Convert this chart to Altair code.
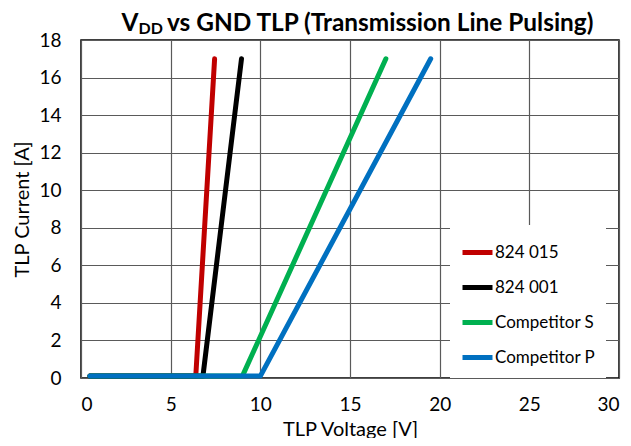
import altair as alt
import pandas as pd

series_names = ["824 015", "824 001", "Competitor S", "Competitor P"]
series_colors = ["#C00000", "#000000", "#00B050", "#0070C0"]

red_x = [0.5, 6.4, 7.45]
red_y = [0.1, 0.1, 17.0]
black_x = [0.5, 6.8, 8.95]
black_y = [0.1, 0.1, 17.0]
green_x = [0.5, 9.0, 17.0]
green_y = [0.1, 0.1, 17.0]
blue_x = [0.5, 10.0, 19.5]
blue_y = [0.1, 0.1, 17.0]

rows = []
for name, xs, ys in zip(series_names,
                        [red_x, black_x, green_x, blue_x],
                        [red_y, black_y, green_y, blue_y]):
    for i, (x, y) in enumerate(zip(xs, ys)):
        rows.append({"series": name, "v": x, "i": y, "k": i})
df = pd.DataFrame(rows)

FONT = "Lato"
W, H = 538, 338

lines = alt.Chart(df).mark_line(strokeWidth=5, strokeCap="round", strokeJoin="round").encode(
    x=alt.X("v:Q", scale=alt.Scale(domain=[0, 30], nice=False),
            axis=alt.Axis(title="TLP Voltage [V]", values=[0, 5, 10, 15, 20, 25, 30])),
    y=alt.Y("i:Q", scale=alt.Scale(domain=[0, 18], nice=False),
            axis=alt.Axis(title="TLP Current [A]", values=list(range(0, 19, 2)))),
    color=alt.Color("series:N", sort=series_names,
                    scale=alt.Scale(domain=series_names, range=series_colors),
                    legend=alt.Legend(title=None, orient="none", legendX=369, legendY=185,
                                      symbolType="stroke", symbolSize=900, symbolStrokeWidth=5,
                                      labelFontSize=17, labelFont=FONT, labelColor="#000",
                                      labelOffset=0, rowPadding=7, fillColor="white",
                                      padding=10, labelLimit=200)),
    order="k:Q",
    detail="series:N",
)

t_v = alt.Chart(pd.DataFrame({"t": ["V"]})).mark_text(
    font=FONT, fontSize=24.4, fontWeight="bold", align="left", baseline="alphabetic", color="#000"
).encode(text="t:N", x=alt.value(40.5), y=alt.value(-9.5))
t_dd = alt.Chart(pd.DataFrame({"t": ["DD"]})).mark_text(
    font=FONT, fontSize=16, fontWeight="bold", align="left", baseline="alphabetic", color="#000"
).encode(text="t:N", x=alt.value(57.5), y=alt.value(-6))
t_rest = alt.Chart(pd.DataFrame({"t": ["vs GND TLP (Transmission Line Pulsing)"]})).mark_text(
    font=FONT, fontSize=24.4, fontWeight="bold", align="left", baseline="alphabetic", color="#000"
).encode(text="t:N", x=alt.value(86), y=alt.value(-9.5))

chart = alt.layer(lines, t_v, t_dd, t_rest).properties(
    width=W, height=H,
    autosize=alt.AutoSizeParams(type="none"),
    padding={"left": 73, "top": 32, "right": 4, "bottom": 60},
).configure_view(
    stroke="#000", strokeWidth=1.5
).configure_axis(
    domain=False, ticks=False, grid=True, gridColor="#5a5a5a", gridWidth=1.2,
    labelFont=FONT, labelFontSize=19, labelColor="#000",
    titleFont=FONT, titleFontSize=20, titleFontWeight="normal", titleColor="#000",
).configure_axisX(labelPadding=17, titlePadding=5).configure_axisY(labelPadding=20, titlePadding=6)

chart.save("out.html", embed_options={"renderer": "svg", "actions": False})
